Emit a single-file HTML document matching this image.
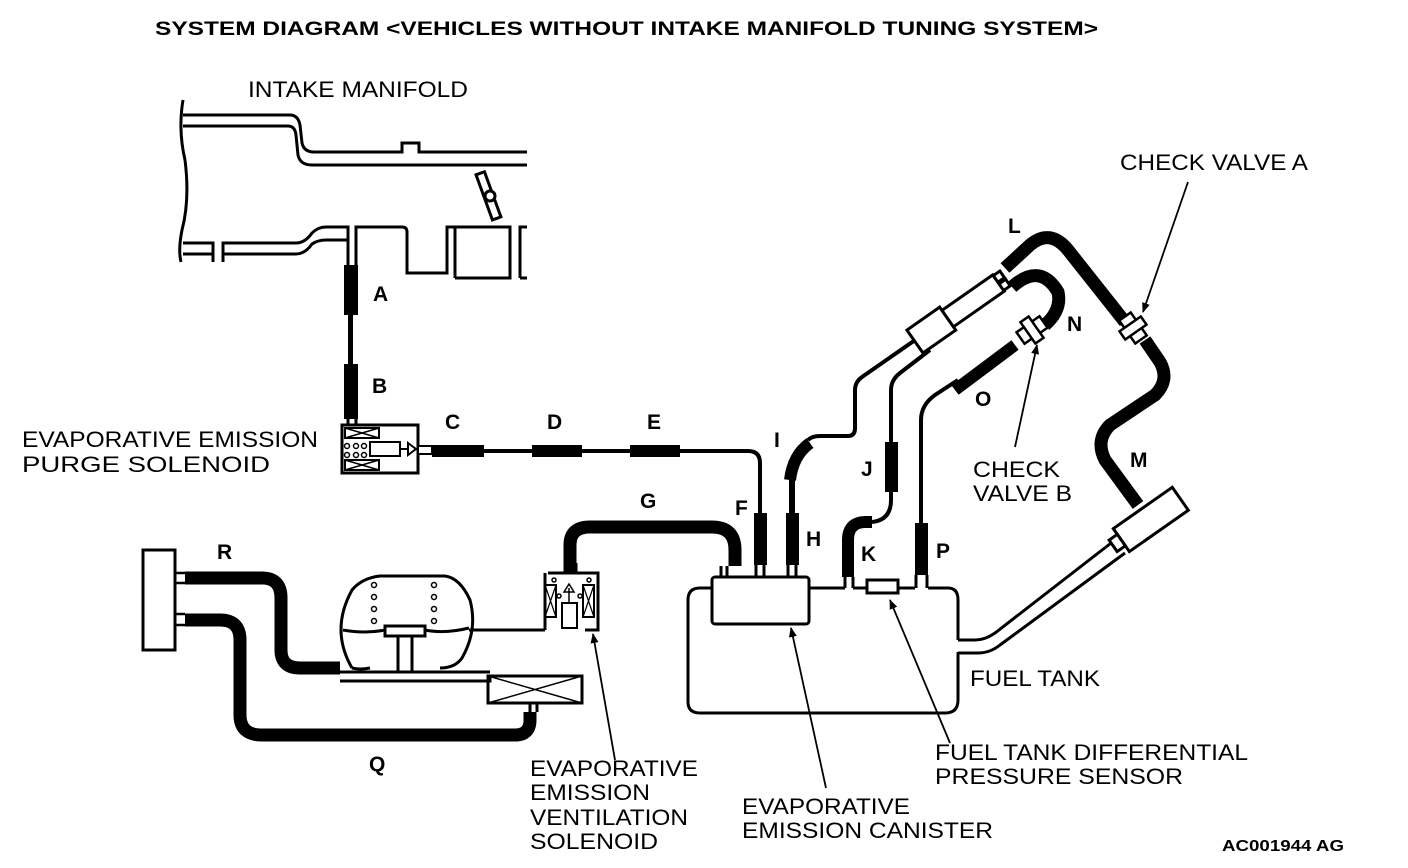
<!DOCTYPE html>
<html><head><meta charset="utf-8"><style>
html,body{margin:0;padding:0;background:#fff;}
svg{display:block;}
text{font-family:"Liberation Sans",sans-serif;fill:#000;}
.t{font-size:22px;}
.b{font-size:21px;font-weight:bold;}
</style></head><body>
<svg width="1408" height="868" viewBox="0 0 1408 868" xmlns="http://www.w3.org/2000/svg">
<defs><marker id="ah" markerWidth="10" markerHeight="10" refX="9" refY="5" orient="auto" markerUnits="userSpaceOnUse"><path d="M0,1 L10,5 L0,9 Z" fill="#000"/></marker></defs>
<text x="155" y="35" font-size="19" font-weight="bold" textLength="943" lengthAdjust="spacingAndGlyphs">SYSTEM DIAGRAM &lt;VEHICLES WITHOUT INTAKE MANIFOLD TUNING SYSTEM&gt;</text>
<g fill="none" stroke="#000" stroke-width="3">
<path d="M183,100 Q178,130 185,160 Q190,200 182,230 Q178,250 181,262"/>
<path d="M183,115 H290 Q298,115 300,125 L302,143 Q304,152 314,152 H402 V143 H419 V152 H527"/>
<path d="M183,126 H288 Q295,126 296,135 L298,155 Q300,165 312,165 H527"/>
<path d="M183,243 H213 V262 M223,262 V243 H296 Q305,243 312,233 Q318,227 326,227 H348 V265"/>
<path d="M183,254 H213 M223,254 H296 Q305,254 312,244 Q318,240 326,240 H348"/>
<path d="M356,265 V227 H402 Q407,227 407,232 V273 H447 V227 H455 V278 M455,227 H510 V278 H455 M520,278 V227 H527 M520,278 H527"/>
<rect x="484" y="172" width="9" height="48" transform="rotate(-20 488 196)"/>
<circle cx="490" cy="196" r="5" fill="#fff"/>
</g>
<rect x="344" y="265" width="14" height="50" fill="#000"/>
<rect x="348" y="313" width="5" height="55" fill="#000"/>
<rect x="344" y="364" width="14" height="55" fill="#000"/>
<path d="M348,419 V424 M356,419 V424" stroke="#000" stroke-width="3"/>
<g fill="none" stroke="#000" stroke-width="3">
<rect x="342" y="425" width="76" height="48"/>
<rect x="345" y="428" width="34" height="10" stroke-width="2"/>
<path d="M345,428 L379,438 M379,428 L345,438" stroke-width="1.5"/>
<rect x="345" y="460" width="34" height="10" stroke-width="2"/>
<path d="M345,460 L379,470 M379,460 L345,470" stroke-width="1.5"/>
<rect x="370" y="442" width="30" height="14" stroke-width="2"/>
<path d="M400,449 H408 M408,443 L416,449 L408,455 Z" stroke-width="2"/>
</g>
<g fill="none" stroke="#000" stroke-width="1.5"><circle cx="347" cy="446" r="2.5"/><circle cx="356" cy="446" r="2.5"/><circle cx="364" cy="446" r="2.5"/><circle cx="347" cy="455" r="2.5"/><circle cx="356" cy="455" r="2.5"/><circle cx="364" cy="455" r="2.5"/></g>
<rect x="418" y="446" width="14" height="8" fill="#fff" stroke="#000" stroke-width="2"/>
<rect x="432" y="445" width="52" height="12" fill="#000"/>
<path d="M484,451 H532 M582,451 H630 M680,451 H748 Q760,451 760,463 V515" stroke="#000" stroke-width="4" fill="none"/>
<rect x="532" y="445" width="50" height="12" fill="#000"/>
<rect x="630" y="445" width="50" height="12" fill="#000"/>
<rect x="754" y="513" width="13" height="52" fill="#000"/>
<rect x="786" y="513" width="13" height="52" fill="#000"/>
<path d="M792,513 V480 Q795,458 808,445" stroke="#000" stroke-width="6" fill="none"/>
<path d="M790,480 Q793,455 810,443" stroke="#000" stroke-width="12" fill="none"/>
<path d="M808,440 Q812,436 820,436 H848 Q855,436 855,428 V390 Q855,382 862,377 L918,338" stroke="#000" stroke-width="4" fill="none"/>
<path d="M570,572 V545 Q570,527 590,527 H712 Q735,527 735,550 V566" stroke="#000" stroke-width="13" fill="none"/>
<g fill="none" stroke="#000" stroke-width="3">
<rect x="712" y="577" width="97" height="47" rx="3"/>
<path d="M712,588 H700 Q688,588 688,600 V702 Q688,713 700,713 H945 Q958,713 958,700 V652"/>
<path d="M809,588 H845 M853,588 H867 M898,588 H915 M928,588 H948 Q958,588 958,600 V640"/>
<rect x="867" y="580" width="31" height="13"/>
<path d="M958,640 H975 Q985,640 995,633 L1115,540 M958,653 H978 Q990,653 1000,645 L1125,553"/>
<path d="M721,577 V566 M727,577 V566 M756,577 V565 M764,577 V565 M788,577 V565 M796,577 V565"/>
<path d="M845,588 V577 M853,588 V577 M916,588 V575 M927,588 V575"/>
</g>
<path d="M848,577 V540 Q848,522 866,522 H872" stroke="#000" stroke-width="12" fill="none"/>
<path d="M872,522 Q891,520 891,500 V490" stroke="#000" stroke-width="4" fill="none"/>
<rect x="885" y="442" width="13" height="50" fill="#000"/>
<path d="M891,442 V390 Q891,380 900,373 L930,350" stroke="#000" stroke-width="4" fill="none"/>
<rect x="915" y="523" width="13" height="52" fill="#000"/>
<path d="M921,523 V420 Q921,405 935,395 L958,380" stroke="#000" stroke-width="4" fill="none"/>
<path d="M955,390 L1015,345" stroke="#000" stroke-width="12" fill="none"/>
<g transform="translate(960,310) rotate(-35)" fill="#fff" stroke="#000" stroke-width="3">
<rect x="-55" y="-14" width="40" height="28"/>
<rect x="-15" y="-10" width="62" height="20"/>
<rect x="47" y="-9" width="8" height="8"/>
<rect x="47" y="1" width="8" height="8"/>
</g>
<path d="M1005,268 L1030,245 Q1050,228 1068,250 L1125,322" stroke="#000" stroke-width="13" fill="none"/>
<path d="M1012,287 Q1040,262 1058,292 Q1062,310 1045,325" stroke="#000" stroke-width="13" fill="none"/>
<g transform="translate(1032,330) rotate(-35)" fill="#fff" stroke="#000" stroke-width="2.5"><rect x="-14" y="-7" width="28" height="14"/><rect x="-5" y="-13" width="10" height="26"/></g>
<g transform="translate(1133,328) rotate(55)" fill="#fff" stroke="#000" stroke-width="2.5"><rect x="-14" y="-7" width="28" height="14"/><rect x="-5" y="-13" width="10" height="26"/></g>
<path d="M1145,340 L1160,362 Q1170,380 1155,395 L1110,425 Q1095,440 1105,460 L1138,505" stroke="#000" stroke-width="13" fill="none"/>
<g transform="translate(1150,520) rotate(-35)" fill="#fff" stroke="#000" stroke-width="3"><rect x="-35" y="-14" width="72" height="28"/><rect x="-45" y="-7" width="10" height="14"/></g>
<rect x="143" y="550" width="32" height="100" fill="#fff" stroke="#000" stroke-width="3"/>
<path d="M175,573 H185 M175,583 H185 M175,614 H185 M175,625 H185" stroke="#000" stroke-width="2.5"/>
<path d="M185,578 H262 Q281,578 281,598 V650 Q281,668 300,668 H340" stroke="#000" stroke-width="13" fill="none"/>
<path d="M185,620 H220 Q240,620 240,640 V715 Q240,735 262,735 H515 Q530,735 530,720 V712" stroke="#000" stroke-width="13" fill="none"/>
<g fill="none" stroke="#000" stroke-width="3">
<path d="M352,668 Q330,630 352,590 Q362,578 380,576 H445 Q460,578 470,600 Q478,630 462,658 Q455,668 440,668 M352,668 Q360,670 370,668"/>
<path d="M340,672 H490 M340,681 H490 V676 M398,672 V636 M412,672 V636"/>
<path d="M343,630 Q365,634 385,630 M425,630 Q445,634 469,628"/>
<rect x="385" y="626" width="40" height="10"/>
<path d="M469,630 H545"/>
<rect x="488" y="676" width="94" height="27"/>
<path d="M488,676 L582,703 M582,676 L488,703" stroke-width="1.5"/>
<path d="M530,703 V712 M537,703 V712"/>
<path d="M548,573 H598 V630 H585 M545,573 V630"/>
<rect x="545" y="585" width="11" height="32" stroke-width="2"/>
<rect x="583" y="585" width="11" height="32" stroke-width="2"/>
<path d="M545,585 L556,617 M556,585 L545,617 M583,585 L594,617 M594,585 L583,617" stroke-width="1.2"/>
<rect x="562" y="603" width="15" height="25" stroke-width="2"/>
<path d="M569,603 V588 M564,592 L569,584 L574,592 Z" stroke-width="1.5"/>
<path d="M566,573 V563 M576,573 V563"/>
</g>
<g fill="none" stroke="#000" stroke-width="1.5">
<circle cx="374" cy="585" r="2.5"/><circle cx="374" cy="597" r="2.5"/><circle cx="374" cy="609" r="2.5"/><circle cx="374" cy="621" r="2.5"/>
<circle cx="434" cy="585" r="2.5"/><circle cx="434" cy="597" r="2.5"/><circle cx="434" cy="609" r="2.5"/><circle cx="434" cy="621" r="2.5"/>
<circle cx="554" cy="580" r="2"/><circle cx="589" cy="580" r="2"/><circle cx="559" cy="596" r="2"/><circle cx="580" cy="596" r="2"/>
</g>
<g stroke="#000" stroke-width="1.8" fill="none" marker-end="url(#ah)">
<path d="M1188,182 L1143,312"/>
<path d="M1015,447 L1037,345"/>
<path d="M615,760 L593,634"/>
<path d="M826,788 L791,628"/>
<path d="M950,743 L890,600"/>
</g>
<text class="t" x="248" y="97" textLength="220" lengthAdjust="spacingAndGlyphs">INTAKE MANIFOLD</text>
<text class="t" x="1120" y="170" textLength="188" lengthAdjust="spacingAndGlyphs">CHECK VALVE A</text>
<text class="t" x="22" y="447" textLength="296" lengthAdjust="spacingAndGlyphs">EVAPORATIVE EMISSION</text>
<text class="t" x="22" y="472" textLength="248" lengthAdjust="spacingAndGlyphs">PURGE SOLENOID</text>
<text class="t" x="973" y="477" textLength="87" lengthAdjust="spacingAndGlyphs">CHECK</text>
<text class="t" x="973" y="501" textLength="99" lengthAdjust="spacingAndGlyphs">VALVE B</text>
<text class="t" x="970" y="686" textLength="130" lengthAdjust="spacingAndGlyphs">FUEL TANK</text>
<text class="t" x="935" y="760" textLength="313" lengthAdjust="spacingAndGlyphs">FUEL TANK DIFFERENTIAL</text>
<text class="t" x="935" y="784" textLength="248" lengthAdjust="spacingAndGlyphs">PRESSURE SENSOR</text>
<text class="t" x="530" y="776" textLength="168" lengthAdjust="spacingAndGlyphs">EVAPORATIVE</text>
<text class="t" x="530" y="800" textLength="120" lengthAdjust="spacingAndGlyphs">EMISSION</text>
<text class="t" x="530" y="825" textLength="158" lengthAdjust="spacingAndGlyphs">VENTILATION</text>
<text class="t" x="530" y="849" textLength="128" lengthAdjust="spacingAndGlyphs">SOLENOID</text>
<text class="t" x="742" y="814" textLength="168" lengthAdjust="spacingAndGlyphs">EVAPORATIVE</text>
<text class="t" x="742" y="838" textLength="251" lengthAdjust="spacingAndGlyphs">EMISSION CANISTER</text>
<text x="1222" y="851" font-size="16" font-weight="bold" textLength="122" lengthAdjust="spacingAndGlyphs">AC001944 AG</text>
<g>
<text class="b" x="373" y="301">A</text><text class="b" x="372" y="393">B</text>
<text class="b" x="445" y="429">C</text><text class="b" x="547" y="429">D</text><text class="b" x="647" y="429">E</text>
<text class="b" x="735" y="515">F</text><text class="b" x="640" y="508">G</text><text class="b" x="806" y="546">H</text>
<text class="b" x="774" y="447">I</text><text class="b" x="861" y="476">J</text><text class="b" x="861" y="561">K</text>
<text class="b" x="1008" y="233">L</text><text class="b" x="1130" y="467">M</text><text class="b" x="1067" y="331">N</text>
<text class="b" x="975" y="406">O</text><text class="b" x="936" y="558">P</text><text class="b" x="369" y="771">Q</text>
<text class="b" x="217" y="559">R</text>
</g>
</svg>
</body></html>
